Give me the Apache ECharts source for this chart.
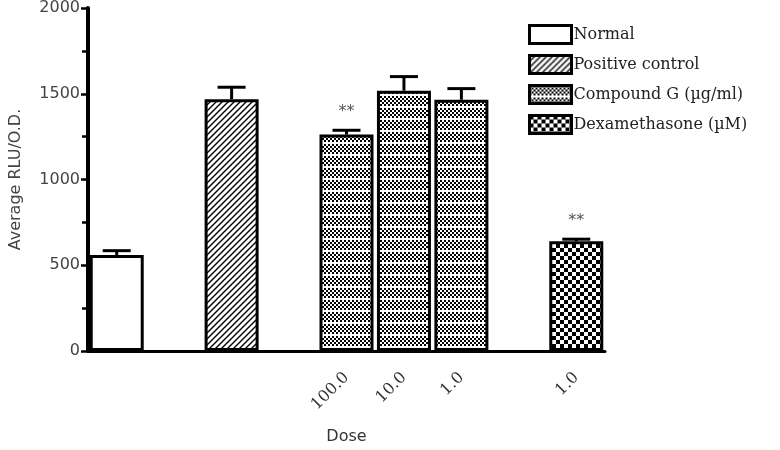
<!DOCTYPE html>
<html><head><meta charset="utf-8">
<script src="https://cdn.jsdelivr.net/npm/echarts@6/dist/echarts.min.js"></script>
<style>html,body{margin:0;padding:0;background:#fff}#c{width:780px;height:450px}</style>
</head><body><div id="c"></div>
<script>
// ---- data ----
const slots = ['Normal', 'gap1', 'Positive control', 'gap2', 'G 100.0', 'G 10.0', 'G 1.0', 'gap3', 'Dex 1.0'];
const tickLabels = ['', '', '', '', '100.0', '10.0', '1.0', '', '1.0'];
const normal = [560, null, null, null, null, null, null, null, null];
const positiveControl = [null, null, 1468, null, null, null, null, null, null];
const compoundG = [null, null, null, null, 1262, 1518, 1465, null, null];
const dexamethasone = [null, null, null, null, null, null, null, null, 640];
const errorTop = [585, null, 1538, null, 1287, 1600, 1530, null, 652];
const marks = ['', '', '', '', '**', '', '', '', '**'];
const seriesNames = ['Normal', 'Positive control', 'Compound G (\u00b5g/ml)', 'Dexamethasone (\u00b5M)'];
const yTicks = [0, 500, 1000, 1500, 2000];

// ---- patterns ----
function tile(w, h, draw) {
  const c = document.createElement('canvas'); c.width = w; c.height = h;
  const g = c.getContext('2d'); g.fillStyle = '#fff'; g.fillRect(0, 0, w, h);
  g.fillStyle = '#000'; g.strokeStyle = '#000'; draw(g); return c;
}
const patWhite = '#ffffff';
const patDiag = tile(6, 6, g => {
  g.lineWidth = 1.4;
  g.beginPath();
  g.moveTo(-1, 7); g.lineTo(7, -1);
  g.moveTo(-4, 4); g.lineTo(4, -4);
  g.moveTo(2, 10); g.lineTo(10, 2);
  g.stroke();
});
const patFine = tile(4, 12, g => {
  for (let r = 0; r < 5; r++) {
    const off = (r % 2) * 2;
    g.fillRect(off, r * 2, 2, 2);
  }
});
const patCheck = tile(8, 8, g => {
  g.fillRect(0, 0, 4, 4); g.fillRect(4, 4, 4, 4);
});

const fills = [patWhite, {image: patDiag, repeat: 'repeat'}, {image: patFine, repeat: 'repeat'}, {image: patCheck, repeat: 'repeat'}];
const values = [normal, positiveControl, compoundG, dexamethasone];

const means = slots.map((s, i) => {
  for (const v of values) if (v[i] != null) return v[i];
  return null;
});
const errData = [];
const errMarks = [];
slots.forEach((s, i) => { if (errorTop[i] != null) { errData.push([i, means[i], errorTop[i]]); errMarks.push(marks[i]); } });

const chart = echarts.init(document.getElementById('c'), null, {renderer: 'canvas'});
const barSeries = seriesNames.map((n, k) => ({
  name: n, type: 'bar', data: values[k], barWidth: 54, barGap: '-100%',
  itemStyle: {color: fills[k], borderColor: '#000', borderWidth: 3},
  z: 2
}));
chart.setOption({
  animation: false,
  grid: {left: 88, top: 8, width: 517, height: 344, containLabel: false},
  legend: {
    left: 523, top: 19, orient: 'vertical', itemWidth: 42, itemHeight: 18, itemGap: 9,
    icon: 'rect', data: seriesNames,
    textStyle: {fontFamily: 'DejaVu Serif', fontSize: 16, color: '#222', padding: [0, 0, 0, -3]},
    itemStyle: {borderColor: '#000', borderWidth: 3}
  },
  xAxis: {
    type: 'category', data: slots, boundaryGap: true,
    axisLine: {lineStyle: {color: '#000', width: 3}},
    axisTick: {alignWithLabel: true, length: 10, lineStyle: {color: '#000', width: 2.5}, interval: 0},
    axisLabel: {interval: 0, rotate: 45, formatter: (v, i) => tickLabels[i], fontFamily: 'DejaVu Serif', fontSize: 16, color: '#333', margin: 24},
    name: 'Dose', nameLocation: 'middle', nameGap: 78,
    nameTextStyle: {fontFamily: 'DejaVu Sans', fontSize: 16, color: '#333'}
  },
  yAxis: {
    type: 'value', min: yTicks[0], max: yTicks[yTicks.length - 1], interval: 500,
    axisLine: {show: true, lineStyle: {color: '#000', width: 4}},
    axisTick: {show: true, length: 7, lineStyle: {color: '#000', width: 2.5}},
    minorTick: {show: true, splitNumber: 2, length: 6, lineStyle: {color: '#000', width: 2.5}},
    splitLine: {show: false},
    axisLabel: {fontFamily: 'DejaVu Sans', fontSize: 16, color: '#444', margin: 8, formatter: v => String(v)},
    name: 'Average RLU/O.D.', nameLocation: 'middle', nameRotate: 90, nameGap: 64,
    nameTextStyle: {fontFamily: 'DejaVu Sans', fontSize: 16, color: '#444'}
  },
  series: barSeries.concat([{
    type: 'custom', name: 'err', data: errData, z: 3,
    encode: {x: 0, y: [1, 2]},
    renderItem: (params, api) => {
      const i = api.value(0);
      const p0 = api.coord([i, api.value(1)]);
      const p1 = api.coord([i, api.value(2)]);
      const st = {stroke: '#000', lineWidth: 3};
      const children = [
        {type: 'line', shape: {x1: p0[0], y1: p0[1], x2: p1[0], y2: p1[1]}, style: st},
        {type: 'line', shape: {x1: p1[0] - 14, y1: p1[1], x2: p1[0] + 14, y2: p1[1]}, style: st}
      ];
      const m = errMarks[params.dataIndex];
      if (m) children.push({type: 'text', style: {text: m, x: p1[0], y: p1[1] - 10, align: 'center', verticalAlign: 'bottom', fill: '#555', font: '16px DejaVu Sans'}});
      return {type: 'group', children};
    }
  }])
});
</script></body></html>
